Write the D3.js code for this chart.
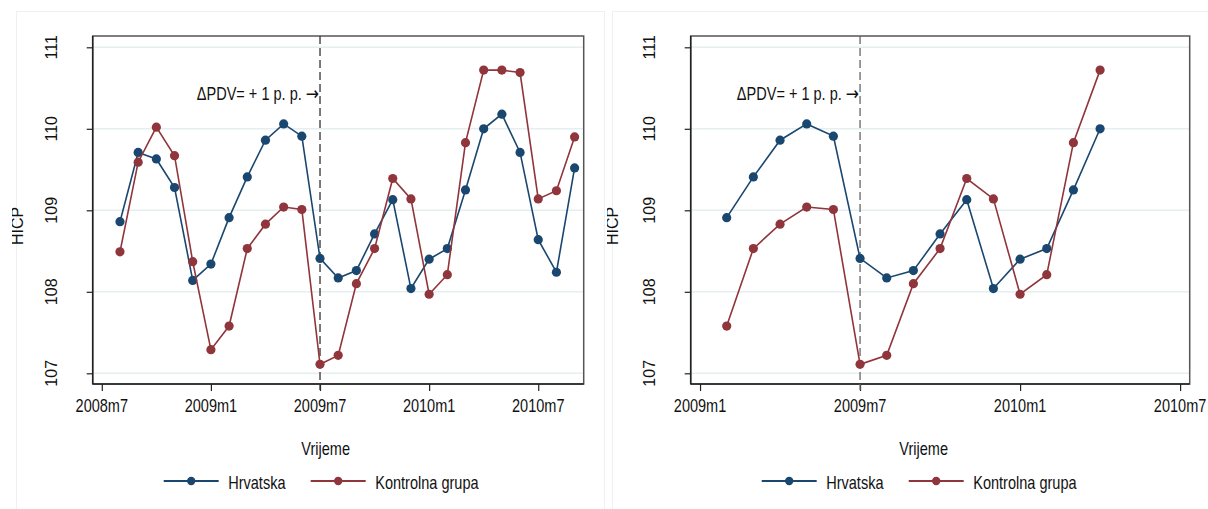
<!DOCTYPE html>
<html>
<head>
<meta charset="utf-8">
<script src="https://cdn.jsdelivr.net/npm/d3@7"></script>
<style>
  html, body { margin: 0; padding: 0; background: #fff; }
  svg { display: block; font-family: "Liberation Sans", Arial, sans-serif; }
</style>
</head>
<body>
<svg id="chart" width="1208" height="509"></svg>
<script>
// monthly HICP, Croatia vs control group
const months = ['2008m8', '2008m9', '2008m10', '2008m11', '2008m12',
    '2009m1', '2009m2', '2009m3', '2009m4', '2009m5', '2009m6',
    '2009m7', '2009m8', '2009m9', '2009m10', '2009m11', '2009m12',
    '2010m1', '2010m2', '2010m3', '2010m4', '2010m5', '2010m6',
    '2010m7', '2010m8', '2010m9'];
const hrvatska = [108.86, 109.71, 109.63, 109.28, 108.14, 108.34, 108.91, 109.41,
    109.86, 110.06, 109.91, 108.41, 108.17, 108.26, 108.71, 109.13, 108.04,
    108.40, 108.53, 109.25, 110.00, 110.18, 109.71, 108.64, 108.24, 109.52];
const kontrolna = [108.49, 109.59, 110.02, 109.67, 108.37, 107.29, 107.58, 108.53,
    108.83, 109.04, 109.01, 107.11, 107.22, 108.10, 108.53, 109.39, 109.14,
    107.97, 108.21, 109.83, 110.72, 110.72, 110.69, 109.14, 109.24, 109.90];
const yTicks = [107, 108, 109, 110, 111];
const xTicksLeft = ['2008m7', '2009m1', '2009m7', '2010m1', '2010m7'];
const xTicksRight = ['2009m1', '2009m7', '2010m1', '2010m7'];
const vatMonth = '2009m7';
const seriesNames = ['Hrvatska', 'Kontrolna grupa'];
const annotation = 'ΔPDV= + 1 p. p. ';
const arrow = '→';
const yTitle = 'HICP';
const xTitle = 'Vrijeme';

const colors = ['#1a476f', '#90353b'];

function monthIndex(label) {
    const [y, m] = label.split('m').map(Number);
    return (y - 2008) * 12 + m - 7;
}

const svg = d3.select('#chart');
const defs = svg.append('defs');

// faint card outlines behind the two graphs
svg.append('rect').attr('x', 16.5).attr('y', 11.5).attr('width', 588).attr('height', 600)
    .attr('fill', 'none').attr('stroke', '#eef1f1');
svg.append('rect').attr('x', 612.5).attr('y', 11.5).attr('width', 600).attr('height', 600)
    .attr('fill', 'none').attr('stroke', '#eef1f1');

// horizontal texts look condensed in the original
function hText(g, x, y, str, anchor) {
    return g.append('text')
        .attr('transform', `translate(${x},${y}) scale(0.83,1)`)
        .attr('text-anchor', anchor || 'middle')
        .attr('font-size', 17.5)
        .attr('fill', '#111')
        .text(str);
}

function drawPanel(opts) {
    const top = 36, bottom = 384;
    const x0 = opts.x0, x1 = opts.x1;
    const g = svg.append('g');

    const xScale = d3.scaleLinear().domain(opts.domain).range([x0, x1]);
    const yScale = d3.scaleLinear().domain([107, 111]).range([373.3, 47.3]);

    // grid
    g.selectAll('.grid').data(yTicks).enter().append('line')
        .attr('x1', x0).attr('x2', x1)
        .attr('y1', d => yScale(d)).attr('y2', d => yScale(d))
        .attr('stroke', '#e5eef0').attr('stroke-width', 1.6);

    // plot frame
    g.append('rect').attr('x', x0).attr('y', top).attr('width', x1 - x0).attr('height', bottom - top)
        .attr('fill', 'none').attr('stroke', '#555').attr('stroke-width', 1.5);

    // axes
    const yAxis = d3.axisLeft(yScale).tickValues(yTicks).tickSize(6).tickFormat('');
    const ya = g.append('g').attr('transform', `translate(${x0},0)`).call(yAxis);
    ya.select('.domain').attr('d', `M0,${top}V${bottom}`).attr('stroke', '#222').attr('stroke-width', 1.5);
    ya.selectAll('.tick line').attr('stroke', '#222').attr('stroke-width', 1.2);

    const xTickIdx = opts.xTicks.map(monthIndex);
    const xAxis = d3.axisBottom(xScale).tickValues(xTickIdx).tickSize(7).tickFormat('');
    const xa = g.append('g').attr('transform', `translate(0,${bottom})`).call(xAxis);
    xa.select('.domain').attr('d', `M${x0},0H${x1}`).attr('stroke', '#222').attr('stroke-width', 1.5);
    xa.selectAll('.tick line').attr('stroke', '#222').attr('stroke-width', 1.2);

    // tick labels
    yTicks.forEach(v => {
        g.append('text')
            .attr('transform', `translate(${x0 - 36},${yScale(v)}) rotate(-90)`)
            .attr('text-anchor', 'middle')
            .attr('font-size', 16)
            .attr('fill', '#111')
            .text(v);
    });
    opts.xTicks.forEach(t => hText(g, xScale(monthIndex(t)), 412, t));

    // axis titles (y title is cut off at the left in the original)
    defs.append('clipPath').attr('id', opts.id + 'clip')
        .append('rect').attr('x', opts.clipX).attr('y', 0).attr('width', 60).attr('height', 509);
    g.append('g')
        .attr('clip-path', `url(#${opts.id}clip)`)
        .append('text')
        .attr('transform', `translate(${x0 - opts.titleOff},226) rotate(-90)`)
        .attr('text-anchor', 'middle')
        .attr('font-size', 16)
        .attr('fill', '#111')
        .text(yTitle);
    hText(g, x0 + 233, 455, xTitle);

    // VAT change marker
    const vx = xScale(monthIndex(vatMonth));
    g.append('line')
        .attr('x1', vx).attr('x2', vx).attr('y1', top).attr('y2', bottom + 6)
        .attr('stroke', opts.dashColor).attr('stroke-width', 1.3)
        .attr('stroke-dasharray', '8,4');
    const ann = hText(g, vx - 1, 99.5, annotation, 'end');
    ann.append('tspan').attr('font-family', 'DejaVu Sans').attr('font-size', 19).text(arrow);

    // series
    const line = d3.line()
        .x(d => xScale(monthIndex(d.m)))
        .y(d => yScale(d.v));
    [hrvatska, kontrolna].forEach((vals, i) => {
        const pts = months.map((m, j) => ({m: m, v: vals[j]})).slice(opts.from, opts.to);
        g.append('path').datum(pts)
            .attr('d', line)
            .attr('fill', 'none')
            .attr('stroke', colors[i])
            .attr('stroke-width', 1.6);
        g.selectAll(null).data(pts).enter().append('circle')
            .attr('cx', d => xScale(monthIndex(d.m)))
            .attr('cy', d => yScale(d.v))
            .attr('r', 4.6)
            .attr('fill', colors[i]);
    });

    // legend
    const lx = x0 + 71, ly = 481;
    seriesNames.forEach((name, i) => {
        const sx = lx + i * 147;
        g.append('line').attr('x1', sx).attr('x2', sx + 55).attr('y1', ly).attr('y2', ly)
            .attr('stroke', colors[i]).attr('stroke-width', 2);
        g.append('circle').attr('cx', sx + 27.5).attr('cy', ly).attr('r', 4.2).attr('fill', colors[i]);
        hText(g, sx + 64.5, ly + 7.5, name, 'start');
    });
}

drawPanel({id: 'left', x0: 92.7, x1: 583.7, domain: [-0.5, 26.5], xTicks: xTicksLeft,
    from: 0, to: months.length, dashColor: '#333', clipX: 12, titleOff: 70});
drawPanel({id: 'right', x0: 690.7, x1: 1189.7, domain: [5.65, 24.36], xTicks: xTicksRight,
    from: months.indexOf('2009m2'), to: months.indexOf('2010m4') + 1, dashColor: '#666',
    clipX: 607, titleOff: 73});
</script>
</body>
</html>
